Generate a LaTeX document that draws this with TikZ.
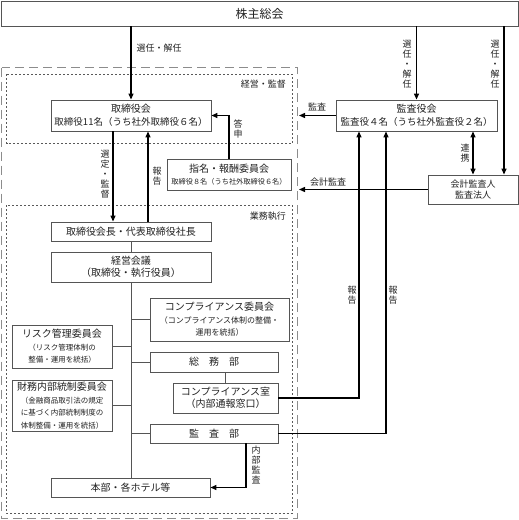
\documentclass[tikz,border=0pt]{standalone}
\usepackage{fontspec}
\setmainfont{Noto Sans CJK JP}
\usetikzlibrary{arrows.meta}
\newcommand\myfs[2]{\fontsize{#1}{#2}\selectfont}
\definecolor{boxgray}{HTML}{555555}
\definecolor{txt}{HTML}{222222}
\begin{document}
\begin{tikzpicture}[x=1pt,y=-1pt,
  box/.style={draw=boxgray,line width=0.9pt,fill=white,align=center,inner sep=0pt,font=\myfs{10}{12.5},text=txt},
  arr/.style={-{Triangle[length=6pt,width=5pt]},line width=1.3pt},
  arrb/.style={{Triangle[length=6pt,width=5pt]}-{Triangle[length=6pt,width=5pt]},line width=1.3pt},
  conn/.style={line width=1pt,draw=boxgray},
  lab/.style={font=\myfs{9}{10},inner sep=0pt,align=center,text=txt},
  outerbox/.style={draw=black!45,line width=1pt,dash pattern=on 9pt off 5pt},
  dotbox/.style={draw=black!65,line width=1pt,dash pattern=on 2pt off 2pt}]
\useasboundingbox (0,0) rectangle (519,520);

% regions
\draw[outerbox] (1.5,67.5) rectangle (297,518);
\draw[dotbox] (6.5,74) rectangle (292,143.5);
\draw[dotbox] (6.5,205) rectangle (292,513);
\node[lab,anchor=east] (lkeiei) at (286,84) {経営・監督};
\node[lab,anchor=east] (lgyomu) at (286,216) {業務執行};

% boxes
\node[box,minimum width=517,minimum height=25,font=\myfs{12}{14}] (sh) at (259.5,13.5) {株主総会};
\node[box,minimum width=160,minimum height=31] (board) at (131,115.5) {取締役会\\\myfs{9.5}{12}取締役11名（うち社外取締役６名）};
\node[box,minimum width=161,minimum height=31] (kansa) at (416.5,115.5) {監査役会\\\myfs{9.5}{12}監査役４名（うち社外監査役２名）};
\node[box,minimum width=90,minimum height=29,font=\myfs{9}{11}] (kaikei) at (473,189.5) {会計監査人\\監査法人};
\node[box,minimum width=124,minimum height=31] (shimei) at (229,174.5) {指名・報酬委員会\\\myfs{7.2}{10}取締役８名（うち社外取締役６名）};
\node[box,minimum width=160,minimum height=19] (chair) at (131,231.5) {取締役会長・代表取締役社長};
\node[box,minimum width=160,minimum height=30] (keiei) at (131,267) {経営会議\\（取締役・執行役員）};
\node[box,minimum width=139,minimum height=43] (comp) at (219.5,319.5) {コンプライアンス委員会\\\myfs{8}{10}（コンプライアンス体制の整備・\\\myfs{8}{10}運用を統括）};
\node[box,minimum width=100,minimum height=43] (risk) at (62,346.5) {リスク管理委員会\\\myfs{7.5}{9.5}（リスク管理体制の\\\myfs{7.5}{9.5}整備・運用を統括）};
\node[box,minimum width=128,minimum height=20] (somu) at (214,362) {総　務　部};
\node[box,minimum width=105,minimum height=30] (comproom) at (225.5,398) {コンプライアンス室\\（内部通報窓口）};
\node[box,minimum width=100,minimum height=51] (zaimu) at (62,405.5) {財務内部統制委員会\\\myfs{7.5}{9.5}（金融商品取引法の規定\\\myfs{7.5}{9.5}に基づく内部統制制度の\\\myfs{7.5}{9.5}体制整備・運用を統括）};
\node[box,minimum width=128,minimum height=19] (kansabu) at (214,433.5) {監　査　部};
\node[box,minimum width=159,minimum height=19] (honbu) at (130.5,487.5) {本部・各ホテル等};

% helper coordinates
\coordinate (xk) at (504,0);
\coordinate (xout) at (299,0);
\coordinate (xr1) at (359,0);
\coordinate (xr2) at (386,0);
\coordinate (xsen) at (113,0);
\coordinate (xhou) at (148,0);
\coordinate (xtr) at (131,0);
\coordinate (xnai) at (246,0);

% connectors
\draw[arr] (sh.south -| board.north) -- (board.north);
\draw[arr] (sh.south -| kansa.north) -- (kansa.north);
\draw[arr] (sh.south -| xk) -- (kaikei.north -| xk);
\draw[arr] (kansa.west) -- (kansa.west -| xout);
\draw[arr] (kaikei.west) -- (kaikei.west -| xout);
\draw[arrb] (kansa.south -| kaikei.north) -- (kaikei.north);
\draw[arr] (comproom.east) -| (kansa.south -| xr1);
\draw[arr] (kansabu.east) -| (kansa.south -| xr2);
\draw[arr] (shimei.north) |- (board.east);
\draw[arr] (board.south -| xsen) -- (chair.north -| xsen);
\draw[arr] (chair.north -| xhou) -- (board.south -| xhou);
\draw[conn] (chair.south) -- (keiei.north);
\draw[conn] (keiei.south) -- (honbu.north -| keiei.south);
\draw[conn] (comp.west -| xtr) -- (comp.west);
\draw[conn] (risk.east) -- (risk.east -| xtr);
\draw[conn] (somu.west -| xtr) -- (somu.west);
\draw[conn] (zaimu.east) -- (zaimu.east -| xtr);
\draw[conn] (kansabu.west -| xtr) -- (kansabu.west);
\draw[conn] (somu.south -| comproom.north) -- (comproom.north);
\draw[arr] (kansabu.south -| xnai) |- (honbu.east);

% labels
\node[lab] (l1) at (159,48) {選任・解任};
\node[lab] (l2) at (407,64) {選\\任\\・\\解\\任};
\node[lab] (l3) at (495,64) {選\\任\\・\\解\\任};
\node[lab] (l4) at (317,107) {監査};
\node[lab] (l5) at (328,182) {会計監査};
\node[lab] (l6) at (465,153) {連\\携};
\node[lab] (l7) at (238,129) {答\\申};
\node[lab] (l8) at (105,174) {選\\定\\・\\監\\督};
\node[lab] (l9) at (157,176) {報\\告};
\node[lab] (l10) at (352,295) {報\\告};
\node[lab] (l11) at (393,295) {報\\告};
\node[lab] (l12) at (256,465) {内\\部\\監\\査};
\end{tikzpicture}
\end{document}
